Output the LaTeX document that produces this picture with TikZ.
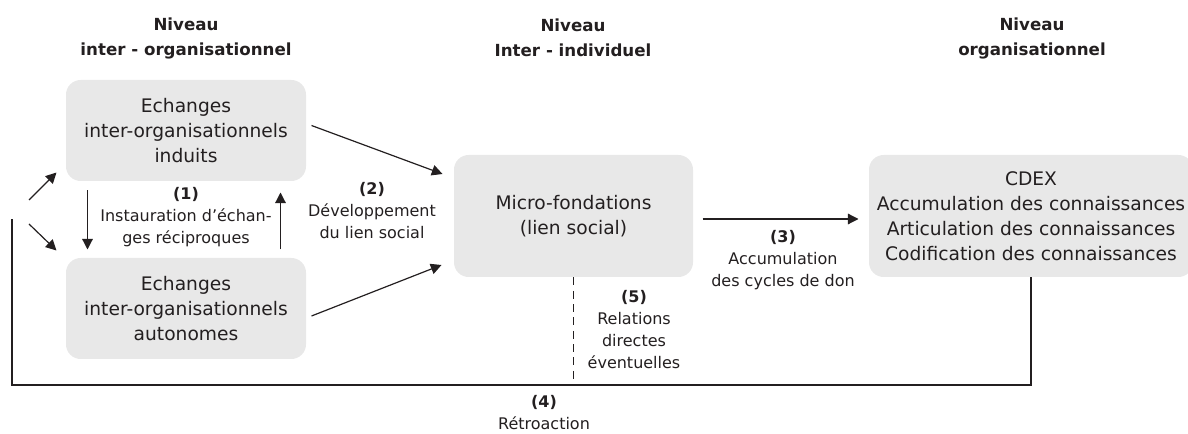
\documentclass[tikz,border=0pt]{standalone}
\usepackage{fontspec}
\setmainfont{DejaVu Sans}
\usetikzlibrary{arrows.meta,calc}
\definecolor{boxgrey}{RGB}{232,232,232}
\definecolor{ink}{RGB}{35,31,32}
\tikzset{every picture/.style={line width=0.75pt}}
\tikzset{
  level/.style={font=\bfseries\fontsize{12.5}{18.75}\selectfont, align=center, inner sep=0.75pt, text=ink},
  box/.style={fill=boxgrey, rounded corners=11pt, align=center, inner sep=0pt, text=ink, font=\fontsize{14}{18.75}\selectfont},
  lbl/.style={align=center, inner sep=0.75pt, text=ink, font=\fontsize{12}{16.5}\selectfont},
  arr/.style={draw=ink, line width=0.9pt, -{Triangle[length=8pt,width=8pt]}},
  link/.style={draw=ink, line width=0.9pt},
}
\def \boxW {180pt}
\def \boxH {75.75pt}
\def \bigW {179.25pt}
\def \bigH {91.5pt}

\begin{document}
\begin{tikzpicture}[x=0.75pt,y=0.75pt,yscale=-1,xscale=1]
	\useasboundingbox (0,0) rectangle (1188,434);

	% Text Node
	\node (hInter) [level] at (186,38) {Niveau\\inter - organisationnel};
	% Text Node
	\node (hIndiv) [level] at (573,38) {Niveau\\Inter - individuel};
	% Text Node
	\node (hOrga) [level] at (1032,38) {Niveau\\organisationnel};

	%Rounded Rect
	\node (induits) [box, minimum width=\boxW, minimum height=\boxH] at (186,130.5) {Echanges\\inter-organisationnels\\induits};
	%Rounded Rect
	\node (autonomes) [box, minimum width=\boxW, minimum height=\boxH] at (186,308.5) {Echanges\\inter-organisationnels\\autonomes};
	%Rounded Rect
	\node (micro) [box, minimum width=\bigW, minimum height=\bigH] at (573.5,216) {Micro-fondations\\(lien social)};
	%Rounded Rect
	\node (cdex) [box, minimum width=243pt, minimum height=\bigH] at (1031,216) {CDEX\\Accumulation des connaissances\\Articulation des connaissances\\Codification des connaissances};

	% Text Node
	\node (lblOne) [lbl] at (186,217) {\textbf{(1)}\\Instauration d’échan-\\ges réciproques};
	% Text Node
	\node (lblTwo) [lbl] at (372,211) {\textbf{(2)}\\Développement\\du lien social};
	% Text Node
	\node (lblThree) [lbl] at (783,260) {\textbf{(3)}\\Accumulation\\des cycles de don};
	% Text Node
	\node (lblFive) [lbl] at (634,329.5) {\textbf{(5)}\\Relations\\directes\\éventuelles};
	% Text Node
	\node (lblFour) [lbl] at (544,413) {\textbf{(4)}\\Rétroaction};

	\coordinate (srcUp) at (29,200);
	\coordinate (srcDown) at (29,224);
	\coordinate (fbEnd) at (12,219);
	\coordinate (fbCorner) at (12,385);

	% entry arrows
	\draw [arr] (srcUp) -- ($(induits.south west)+(-9,-9)$);
	\draw [arr] (srcDown) -- ($(autonomes.north west)+(-9,-7)$);
	% (1)
	\draw [arr] ($(induits.south west)+(22,9)$) -- ($(autonomes.north west)+(22,-8)$);
	\draw [arr] ($(autonomes.north east)+(-26,-8)$) -- ($(induits.south east)+(-26,11)$);
	% (2)
	\draw [arr] ($(induits.east)+(5,-5)$) -- ($(micro.west)+(-11,-42)$);
	\draw [arr] ($(autonomes.east)+(5,7.5)$) -- ($(micro.west)+(-12,49)$);
	% (3)
	\draw [arr] ($(micro.east)+(9,3)$) -- ($(cdex.west)+(-10,3)$);
	% (4)
	\draw [link] (cdex.south) |- (fbCorner) -- (fbEnd);
	% (5)
	\draw [link, line width=0.6pt, dash pattern=on 6pt off 4pt] (micro.south) -- (micro.south |- fbCorner);

\end{tikzpicture}
\end{document}
